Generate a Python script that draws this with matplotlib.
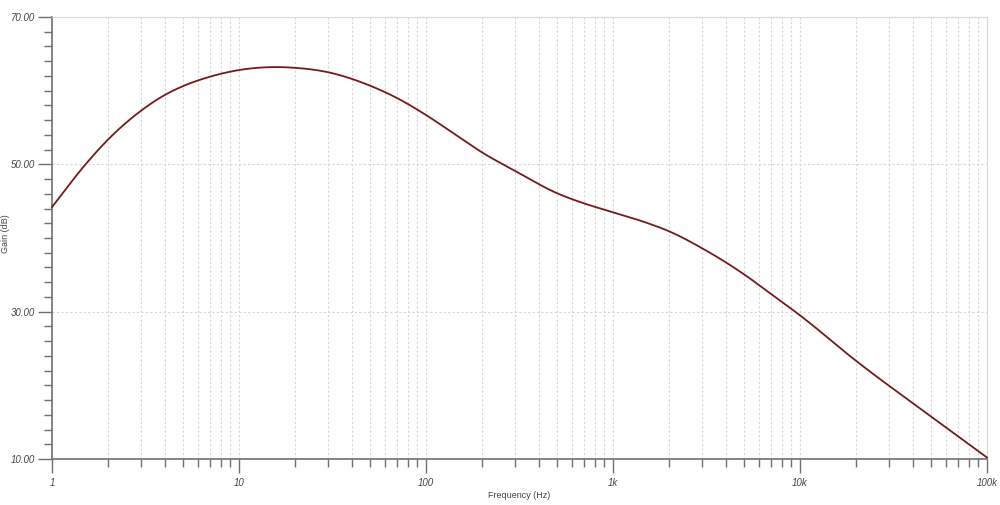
import numpy as np
import matplotlib
matplotlib.use("Agg")
from matplotlib import pyplot as plt
from matplotlib.ticker import FixedLocator, MultipleLocator, NullFormatter

# values
freq = [1, 1.5, 2, 3, 4, 5, 7, 10, 15, 20, 30, 50, 70, 100, 150, 200, 300,
        500, 700, 1000, 1500, 2000, 3000, 5000, 7000, 10000, 20000, 50000,
        100000]
gain = [44.2, 49.9, 53.4, 57.3, 59.4, 60.6, 61.9, 62.8, 63.2, 63.1, 62.5,
        60.7, 59.0, 56.7, 53.7, 51.6, 49.1, 46.1, 44.7, 43.5, 42.1, 40.9,
        38.6, 35.1, 32.4, 29.5, 23.3, 15.8, 10.2]

y_ticks = [10, 30, 50, 70]
x_ticks = [1, 10, 100, 1000, 10000, 100000]
x_labels = ["1", "10", "100", "1k", "10k", "100k"]


def hermite(x, y, n=40):
    # cubic hermite through the read points (log-frequency axis)
    x = np.asarray(x, float)
    y = np.asarray(y, float)
    m = np.gradient(y, x)
    xo, yo = [], []
    for i in range(len(x) - 1):
        h = x[i + 1] - x[i]
        t = np.linspace(0, 1, n, endpoint=False)
        h00 = 2 * t**3 - 3 * t**2 + 1
        h10 = t**3 - 2 * t**2 + t
        h01 = -2 * t**3 + 3 * t**2
        h11 = t**3 - t**2
        xo.append(x[i] + t * h)
        yo.append(h00 * y[i] + h10 * h * m[i] + h01 * y[i + 1]
                  + h11 * h * m[i + 1])
    xo.append([x[-1]])
    yo.append([y[-1]])
    return np.concatenate(xo), np.concatenate(yo)


plt.rc("font", family=["Liberation Sans", "DejaVu Sans"])

fig = plt.figure(figsize=(10, 5.05), dpi=100)
ax = fig.add_axes([0.052, 0.0911, 0.935, 0.8752])

ax.set_xscale("log")
ax.set_xlim(1, 100000)
ax.set_ylim(10, 70)

lx, ly = hermite(np.log10(freq), gain)
ax.plot(10 ** lx, ly, color="#741a1a", lw=1.3, zorder=3, clip_on=False)

minors = [m * 10 ** d for d in range(5) for m in range(2, 10)]
ax.xaxis.set_major_locator(FixedLocator(x_ticks))
ax.xaxis.set_minor_locator(FixedLocator(minors))
ax.xaxis.set_minor_formatter(NullFormatter())
ax.set_xticklabels(x_labels)
ax.yaxis.set_major_locator(FixedLocator(y_ticks))
ax.yaxis.set_minor_locator(MultipleLocator(2))
ax.set_yticklabels(["%.2f" % v for v in y_ticks])

grid_kw = dict(color="#d6d6d6", ls=(0, (2, 2)), lw=0.8)
for x in minors + x_ticks[1:-1]:
    ax.axvline(x, zorder=1, **grid_kw)
for y in y_ticks[1:-1]:
    ax.axhline(y, zorder=1, **grid_kw)

for s in ["top", "right"]:
    ax.spines[s].set_color("#dadada")
for s in ["left", "bottom"]:
    ax.spines[s].set_color("#707070")
    ax.spines[s].set_linewidth(1.2)

ax.tick_params(which="major", length=10, width=1, color="#707070",
               labelsize=7, labelcolor="#444444", pad=4)
ax.tick_params(which="minor", length=5.5, width=1, color="#707070")
ax.tick_params(axis="y", which="major", pad=2)
for t in ax.get_xticklabels() + ax.get_yticklabels():
    t.set_style("italic")

ax.set_xlabel("Frequency (Hz)", fontsize=6.5, color="#444444", va="top")
ax.xaxis.set_label_coords(0.5, -0.072)
ax.set_ylabel("Gain (dB)", fontsize=6.5, color="#444444")
ax.yaxis.set_label_coords(-0.045, 0.51)

fig.savefig("out.png", dpi=100)
